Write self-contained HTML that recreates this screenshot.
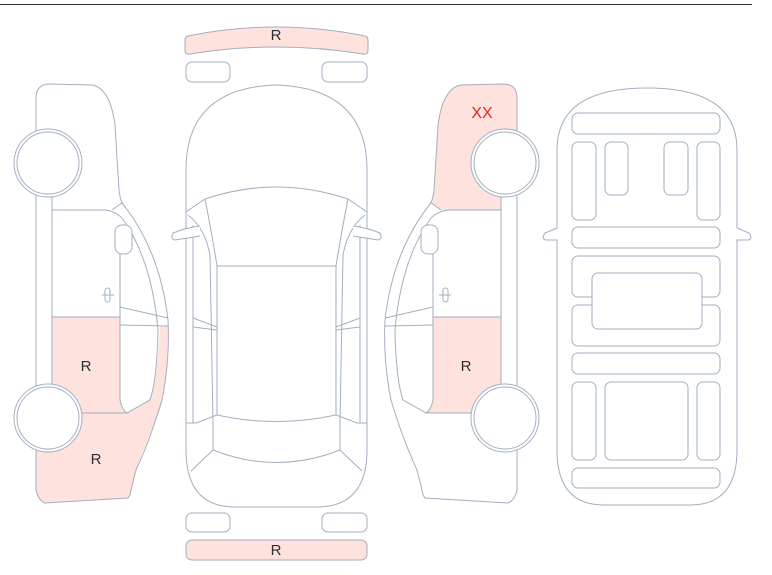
<!DOCTYPE html>
<html><head><meta charset="utf-8"><style>
html,body{margin:0;padding:0;background:#fff;width:772px;height:575px;overflow:hidden}
svg{display:block}
text{font-family:"Liberation Sans",sans-serif;font-size:15px;fill:#2b2f36;text-anchor:middle}
</style></head><body>
<svg width="772" height="575" viewBox="0 0 772 575" xmlns="http://www.w3.org/2000/svg">
<line x1="0" y1="4.5" x2="752" y2="4.5" stroke="#333" stroke-width="1"/>
<g fill="none" stroke="#a3afc0" stroke-width="1">
<defs>
<g id="side">
  <path d="M36,98 Q36,84 50,84 L92,85 Q110,88 115,125 L119,190 Q120,198 122,203 Q160,250 168,320 Q170,360 162,400 Q150,440 136,470 Q132,485 130,495 L128,498 L45,503 Q38,500 36,490 Z" fill="none"/>
  <line x1="52" y1="197" x2="52" y2="385"/>
  <path d="M52,210 L105,210 Q115,211 122,218 Q152,260 158,330 Q157,380 150,400 L127,413"/>
  <line x1="112" y1="210" x2="123" y2="202"/>
  <path d="M120,228 L120,400 Q122,410 127,413 L80,413"/>
  <path d="M120,307 L168,318 M120,325 L168,326"/>
  <rect x="115" y="225" width="17" height="29" rx="7" fill="#fff"/>
  <rect x="105" y="288" width="5" height="14" rx="2.5"/>
  <line x1="102" y1="295" x2="114" y2="295"/>
</g>
<g id="wheel"><circle r="34" fill="#fff"/><circle r="31"/></g>
</defs>
<!-- left side view -->
<path d="M52,317 L120,317 L120,400 Q122,410 127,413 L52,413 Z" fill="#fde2de" stroke="none"/>
<path d="M52,413 L127,413 Q145,405 152,395 Q158,370 160,327 L168,326 Q168,380 160,410 Q145,445 136,470 Q132,485 130,495 L128,498 L45,503 Q38,500 36,490 L36,440 Z" fill="#fde2de" stroke="none"/>
<use href="#side"/>
<path d="M52,317 L120,317" />
<use href="#wheel" x="48" y="163"/>
<use href="#wheel" x="48" y="418"/>
<!-- right side view (mirrored) -->
<g transform="translate(553,0) scale(-1,1)">
  <path d="M52,210 L52,190 L36,180 L36,98 Q36,84 50,84 L92,85 Q110,88 115,125 L119,190 Q120,198 122,203 L112,210 Z" fill="#fde2de" stroke="none"/>
  <path d="M52,317 L120,317 L120,400 Q122,410 127,413 L52,413 Z" fill="#fde2de" stroke="none"/>
  <use href="#side"/>
  <path d="M52,317 L120,317"/>
  <use href="#wheel" x="48" y="163"/>
  <use href="#wheel" x="48" y="418"/>
</g>
<!-- top view -->
<path d="M188,36 Q276,18 365,36 Q368,37 368,40 L368,50 Q368,55 363,54 Q276,40 190,54 Q185,55 185,50 L185,40 Q185,37 188,36 Z" fill="#fde2de"/>
<rect x="186" y="62" width="44" height="20" rx="6"/>
<rect x="322" y="62" width="45" height="20" rx="6"/>
<rect x="186" y="513" width="44" height="19" rx="6"/>
<rect x="322" y="513" width="45" height="19" rx="6"/>
<rect x="186" y="540" width="181" height="20" rx="6" fill="#fde2de"/>
<path d="M186,170 Q186,88 276,85 Q367,88 367,170 L367,450 Q367,505 320,507 L232,507 Q186,505 186,450 Z" fill="#fff"/>
<path d="M186,212 L205,199 Q276,175 348,199 L367,212"/>
<path d="M205,199 Q213,240 217,266 M348,199 Q340,240 336,266"/>
<path d="M188,215 Q205,228 210,255 L213,423 L213,450 M365,215 Q348,228 343,255 L340,423 L340,450"/>
<path d="M193,225 L193,423 M360,225 L360,423"/>
<path d="M217,266 L336,266 L336,415 Q276,428 217,415 Z"/>
<path d="M213,450 Q276,475 340,450 M213,450 L191,471 M340,450 L362,471"/>
<path d="M186,423 L196,423 L217,415 M367,423 L357,423 L336,415"/>
<path d="M193,318 L217,327 M193,327 L217,330 M360,318 L336,327 M360,327 L336,330"/>
<path d="M200,226 Q185,228 173,233 Q170,239 175,240 Q188,238 200,236" fill="#fff"/>
<path d="M353,226 Q368,228 380,233 Q383,239 378,240 Q365,238 353,236" fill="#fff"/>
<!-- right top view -->
<path d="M557,150 Q557,88 647,88 Q737,88 737,150 L737,228 L749,233 Q753,239 748,240 L737,240 L737,450 Q737,505 690,505 L604,505 Q557,505 557,450 L557,240 L546,240 Q541,239 545,233 L557,228 Z" fill="#fff"/>
<rect x="572" y="113" width="148" height="21" rx="6"/>
<rect x="572" y="142" width="24" height="78" rx="6"/>
<rect x="605" y="142" width="23" height="53" rx="6"/>
<rect x="664" y="142" width="24" height="53" rx="6"/>
<rect x="697" y="142" width="23" height="78" rx="6"/>
<rect x="572" y="227" width="148" height="21" rx="6"/>
<rect x="572" y="256" width="148" height="41" rx="6"/>
<rect x="572" y="305" width="148" height="41" rx="6"/>
<rect x="592" y="273" width="110" height="56" rx="6" fill="#fff"/>
<rect x="572" y="353" width="148" height="21" rx="6"/>
<rect x="572" y="382" width="24" height="78" rx="6"/>
<rect x="605" y="382" width="83" height="78" rx="6"/>
<rect x="697" y="382" width="23" height="78" rx="6"/>
<rect x="572" y="468" width="148" height="20" rx="6"/>
</g>
<text x="276" y="40">R</text>
<text x="276" y="555">R</text>
<text x="86" y="371">R</text>
<text x="96" y="464">R</text>
<text x="466" y="371">R</text>
<text x="482" y="118" style="fill:#e8261f;font-size:16px">XX</text>
</svg>
</body></html>
